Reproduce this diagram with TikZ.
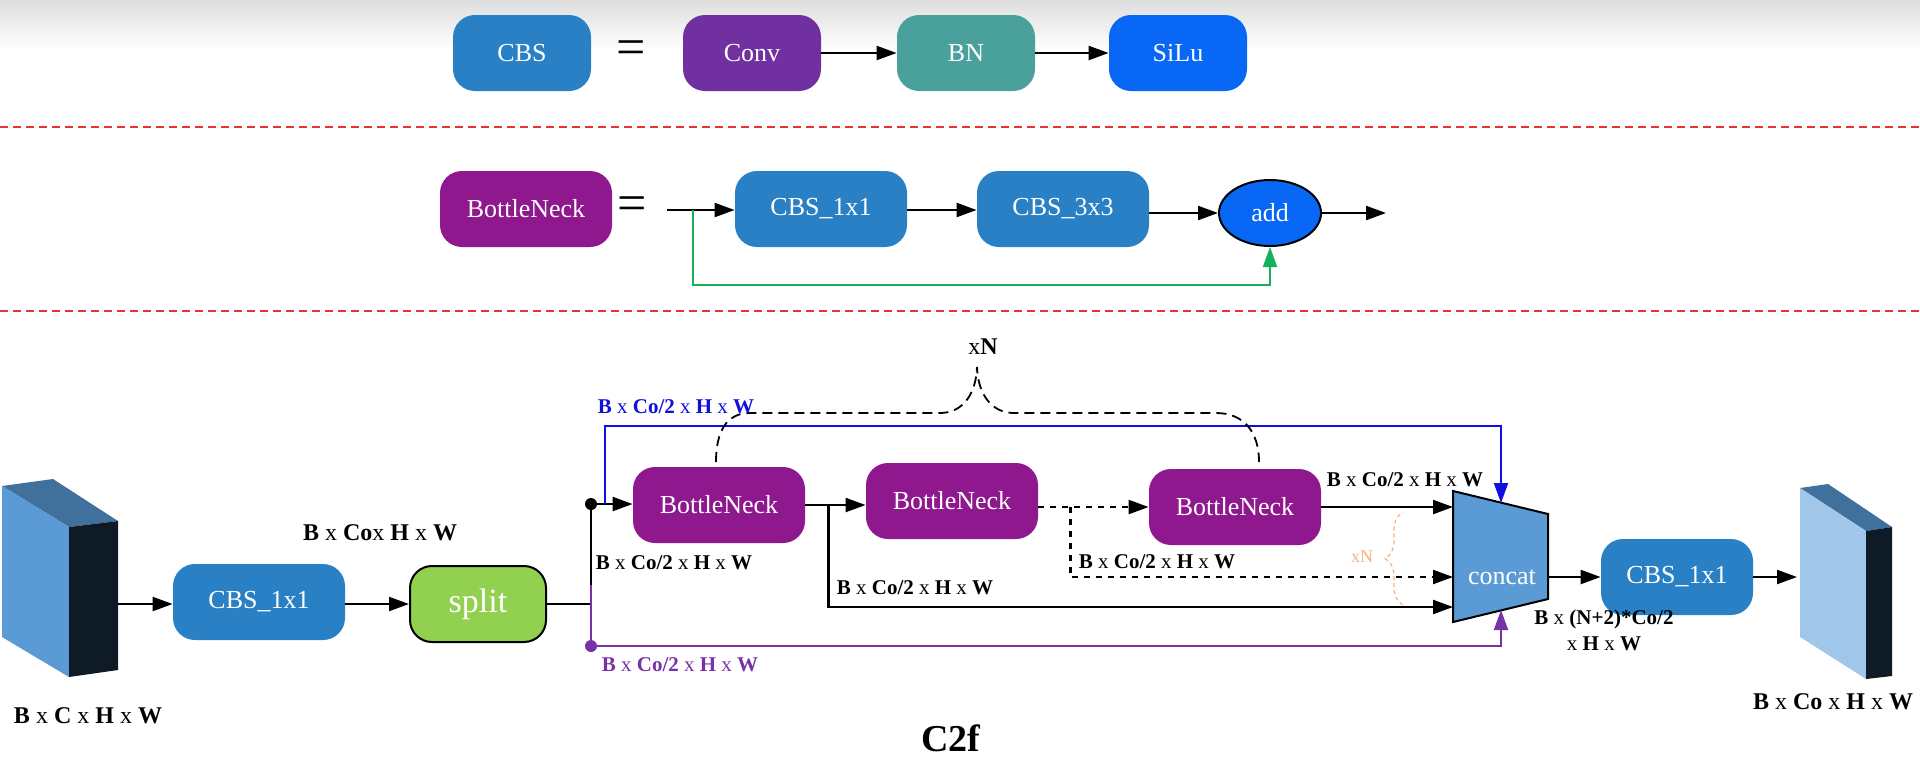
\documentclass[tikz,border=0pt]{standalone}
\usepackage{fontspec}
\setmainfont{Liberation Serif}
\usepackage{xcolor}
\usepackage{tikz}
\usetikzlibrary{arrows.meta,positioning,calc,shapes.geometric,decorations.pathreplacing}

\definecolor{cbsblue}{RGB}{41,128,196}
\definecolor{convpurple}{RGB}{112,48,160}
\definecolor{bnteal}{RGB}{74,160,155}
\definecolor{silublue}{RGB}{8,104,245}
\definecolor{neckpurple}{RGB}{143,24,143}
\definecolor{splitgreen}{RGB}{146,208,80}
\definecolor{catblue}{RGB}{91,155,213}
\definecolor{sepred}{RGB}{228,52,44}
\definecolor{skipgreen}{RGB}{20,176,90}
\definecolor{bracetan}{RGB}{244,177,131}
\definecolor{linkpurple}{RGB}{120,50,165}
\definecolor{linkblue}{RGB}{15,15,225}
\definecolor{facetop}{RGB}{64,112,156}
\definecolor{facedark}{RGB}{14,26,38}
\definecolor{facelight}{RGB}{160,198,234}
\newcommand{\dims}[1]{\textbf{B} x \textbf{#1} x \textbf{H} x \textbf{W}}

\tikzset{
  block/.style={rounded corners=11pt, minimum width=86pt, minimum height=38pt,
    text=white, font=\fontsize{13}{13}\selectfont, inner sep=0pt},
  smallblock/.style={block, minimum width=69pt},
  tip/.style={-{Triangle[length=10pt,width=7pt]}},
  arr/.style={tip, line width=1.1pt},
  lbl/.style={font=\fontsize{10.5}{13}\selectfont, inner sep=1pt},
  biglbl/.style={font=\fontsize{12}{14}\selectfont, inner sep=1pt},
  sep/.style={sepred, line width=0.8pt, dash pattern=on 4pt off 2.5pt},
  eqsign/.style={font=\fontsize{26}{26}\selectfont, inner sep=0pt},
}

\begin{document}
\begin{tikzpicture}[x=0.5pt,y=-0.5pt]
    \useasboundingbox (0,0) rectangle (1920,757);
    \shade[top color=black!13, bottom color=white] (0,0) rectangle (1920,50);

    % CBS = Conv -> BN -> SiLu
    \node[smallblock, fill=cbsblue] (cbs) at (522,53) {CBS};
    \node[eqsign] (eqA) at (631,53) {=};
    \node[smallblock, fill=convpurple] (conv) at (752,53) {Conv};
    \node[smallblock, fill=bnteal] (bn) at (966,53) {BN};
    \node[smallblock, fill=silublue] (silu) at (1178,53) {SiLu};
    \draw[arr] (conv) -- (bn);
    \draw[arr] (bn) -- (silu);

    \draw[sep] (0,127) -- (1920,127);

    % BottleNeck = CBS_1x1 -> CBS_3x3 -> add
    \node[block, fill=neckpurple] (bneck) at (526,209) {BottleNeck};
    \node[eqsign] (eqB) at (632,209) {=};
    \coordinate (bin) at (667,210);
    \coordinate (bskip) at (693,210);
    \node[block, fill=cbsblue] (cbsA) at (821,209) {CBS\_1x1};
    \node[block, fill=cbsblue] (cbsB) at (1063,209) {CBS\_3x3};
    \node[ellipse, draw, line width=1pt, fill=silublue, text=white, minimum width=51pt,
          minimum height=33pt, inner sep=0pt, font=\fontsize{13}{13}\selectfont] (add) at (1270,213) {add};
    \coordinate (bout) at (1386,213);
    \draw[arr] (bin) -- (cbsA.west |- bin);
    \draw[arr] (cbsA.east |- bin) -- (cbsB.west |- bin);
    \draw[arr] (cbsB.east |- add) -- (add);
    \draw[arr] (add) -- (bout);
    \draw[skipgreen, line width=1pt, tip] (bskip) -- ++(0,75) -| (add.south);

    \draw[sep] (0,311) -- (1920,311);

    % input feature map
    \fill[facetop] (2,486) -- (53,479) -- (118,521) -- (69,527) -- cycle;
    \fill[catblue] (2,486) -- (69,527) -- (69,677) -- (2,637) -- cycle;
    \fill[facedark] (69,527) -- (118,521) -- (118,670) -- (69,677) -- cycle;
    \coordinate (inL) at (118,604);
    \node[biglbl] (dimIn) at (88,716) {\dims{C}};

    % C2f
    \node[block, fill=cbsblue] (c1) at (259,602) {CBS\_1x1};
    \node[block, fill=splitgreen, draw=black, line width=1pt, minimum width=68pt,
          font=\fontsize{17}{17}\selectfont] (split) at (478,604) {split};
    \node[biglbl] (dimC1) at (380,533) {\textbf{B} x \textbf{Co}x \textbf{H} x \textbf{W}};
    \draw[arr] (inL) -- (c1.west |- inL);
    \draw[arr] (c1.east |- split) -- (split);

    \coordinate (j0) at (591,604);
    \coordinate (jp) at (591,585);
    \fill (591,504) circle (6) coordinate (dotB);
    \fill[linkpurple] (591,646) circle (6) coordinate (dotP);
    \coordinate (jb) at (605,504);

    \node[block, fill=neckpurple] (bn1) at (719,505) {BottleNeck};
    \node[block, fill=neckpurple] (bn2) at (952,501) {BottleNeck};
    \node[block, fill=neckpurple] (bn3) at (1235,507) {BottleNeck};

    % concat
    \draw[fill=catblue, line width=1pt] (1453,491) -- (1548,514) -- (1548,599) -- (1453,622) -- cycle;
    \node[text=white, font=\fontsize{13}{13}\selectfont] (concat) at (1502,577) {concat};
    \coordinate (catTop) at (1501,503);
    \coordinate (catBot) at (1501,610);
    \coordinate (catL) at (1453,556);
    \coordinate (catOut) at (1548,577);

    \node[block, fill=cbsblue, minimum width=76pt] (cbsR) at (1677,577) {CBS\_1x1};
    \coordinate (inR) at (1797,577);

    % links
    \draw[line width=1.1pt] (split) -- (j0);
    \draw[line width=1.1pt] (jp) -- (dotB);
    \draw[arr] (dotB) -- (bn1.west |- dotB);
    \draw[linkblue, line width=1pt, tip] (jb) -- ++(0,-78) -| (catTop);
    \draw[linkpurple, line width=1pt, tip] (jp) -- (dotP) -| (catBot);

    \draw[arr] (bn1.east) -- (bn1.east -| bn2.west);
    \coordinate (j1) at ($(bn1.east)+(23,0)$);
    \draw[arr] (j1) |- (catL |- 0,607);
    \draw[arr, dashed] (bn2.east |- bn3.west) -- (bn3.west);
    \coordinate (j2) at ($(bn2.east |- bn3.west)+(32,0)$);
    \draw[arr, dashed] (j2) |- (catL |- 0,577);
    \draw[arr] (bn3.east) -- (catL |- bn3.east);
    \draw[arr] (catOut) -- (cbsR);
    \draw[arr] (cbsR) -- (inR);

    % repeat marks
    \node[font=\fontsize{12}{12}\selectfont] (xn) at (983,347) {x\textbf{N}};
    \draw[line width=0.9pt, dash pattern=on 5pt off 3pt]
        (716,462) .. controls (716,432) and (726,413) .. (750,413) -- (940,413)
        .. controls (962,413) and (976,395) .. (977,367)
        .. controls (978,395) and (992,413) .. (1014,413) -- (1216,413)
        .. controls (1244,413) and (1259,432) .. (1259,462);
    \draw[bracetan, line width=0.6pt, dash pattern=on 2pt off 1.5pt,
          decorate, decoration={brace, amplitude=9pt}] (1403,605) -- (1403,512);
    \node[bracetan, font=\fontsize{9}{9}\selectfont] (xnB) at (1362,557) {xN};

    % output feature map
    \fill[facetop] (1800,488) -- (1828,484) -- (1892,527) -- (1866,531) -- cycle;
    \fill[facelight] (1800,488) -- (1866,531) -- (1866,679) -- (1800,637) -- cycle;
    \fill[facedark] (1866,531) -- (1892,527) -- (1892,676) -- (1866,679) -- cycle;
    \node[biglbl] (dimOut) at (1833,702) {\dims{Co}};

    % shape labels
    \node[lbl, text=linkblue] (dimB) at (676,407) {\dims{Co/2}};
    \node[lbl] (dim1) at (674,563) {\dims{Co/2}};
    \node[lbl] (dim2) at (915,588) {\dims{Co/2}};
    \node[lbl] (dim3) at (1157,562) {\dims{Co/2}};
    \node[lbl] (dim4) at (1405,480) {\dims{Co/2}};
    \node[lbl, text=linkpurple] (dimP) at (680,665) {\dims{Co/2}};
    \node[lbl, align=center] (dimCat) at (1604,630)
        {\textbf{B} x \textbf{(N+2)*Co/2}\\x \textbf{H} x \textbf{W}};

    \node[font=\bfseries\fontsize{19}{19}\selectfont] (title) at (951,738) {C2f};
\end{tikzpicture}
\end{document}
